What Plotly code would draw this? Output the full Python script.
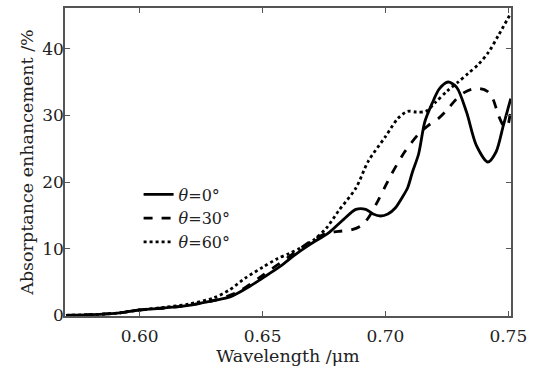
import plotly.graph_objects as go

# Wavelength (um) and absorptance enhancement (%)
x0 = [0.570, 0.580, 0.590, 0.600, 0.610, 0.620, 0.630, 0.637, 0.645, 0.650, 0.657, 0.664, 0.670, 0.677, 0.683, 0.688, 0.692, 0.695, 0.698, 0.701, 0.704, 0.707, 0.709, 0.711, 0.7135, 0.716, 0.719, 0.722, 0.7255, 0.729, 0.733, 0.737, 0.7417, 0.745, 0.748, 0.751]
y0 = [0.0, 0.1, 0.3, 0.8, 1.1, 1.5, 2.2, 2.8, 4.4, 5.6, 7.3, 9.3, 10.8, 12.4, 14.4, 15.9, 15.9, 15.2, 14.9, 15.2, 16.1, 17.8, 19.1, 21.5, 24.2, 29.0, 31.8, 34.0, 35.0, 34.2, 30.5, 25.5, 23.0, 24.5, 28.5, 32.5]

x30 = [0.570, 0.580, 0.590, 0.600, 0.610, 0.620, 0.630, 0.640, 0.650, 0.660, 0.670, 0.676, 0.681, 0.686, 0.690, 0.693, 0.697, 0.7025, 0.708, 0.7135, 0.7175, 0.7215, 0.7255, 0.7285, 0.732, 0.735, 0.7385, 0.7415, 0.7437, 0.746, 0.748, 0.7495, 0.751]
y30 = [0.0, 0.1, 0.3, 0.8, 1.1, 1.5, 2.2, 3.5, 6.0, 8.6, 11.2, 12.3, 12.6, 12.8, 13.4, 14.6, 17.2, 21.2, 24.6, 27.2, 28.5, 29.5, 31.0, 32.3, 33.4, 33.9, 34.0, 33.6, 32.5, 30.0, 28.5, 28.3, 31.0]

x60 = [0.570, 0.580, 0.590, 0.600, 0.610, 0.620, 0.630, 0.6365, 0.643, 0.650, 0.656, 0.661, 0.6655, 0.6705, 0.676, 0.681, 0.688, 0.693, 0.700, 0.705, 0.709, 0.7125, 0.7165, 0.7205, 0.725, 0.7296, 0.7337, 0.7377, 0.742, 0.746, 0.751]
y60 = [0.0, 0.1, 0.3, 0.8, 1.2, 1.7, 2.6, 3.8, 5.6, 7.2, 8.5, 9.3, 10.1, 11.2, 13.1, 15.7, 19.1, 23.1, 26.8, 29.5, 30.6, 30.5, 30.6, 32.0, 33.6, 35.0, 36.3, 37.6, 39.5, 42.0, 45.3]

series = [
    ("<i>θ</i>=0°", x0, y0, "solid"),
    ("<i>θ</i>=30°", x30, y30, "dash"),
    ("<i>θ</i>=60°", x60, y60, "dot"),
]

fig = go.Figure()
for name, xs, ys, dash in series:
    fig.add_trace(go.Scatter(
        x=xs, y=ys, mode="lines", name=name,
        line=dict(color="black", width=2.8, dash=dash, shape="spline", smoothing=0.8),
    ))

font = "DejaVu Serif, serif"
axis_common = dict(
    showline=True, linecolor="#555", linewidth=1.5, mirror="ticks",
    ticks="inside", ticklen=5, tickcolor="#555", tickwidth=1,
    showgrid=False, zeroline=False,
    tickfont=dict(family=font, size=17, color="#222"),
)
fig.update_xaxes(range=[0.5696, 0.7511], tickvals=[0.60, 0.65, 0.70, 0.75],
                 ticktext=["0.60", "0.65", "0.70", "0.75"], ticklabelstandoff=4,
                 title=dict(text="Wavelength /μm", font=dict(family=font, size=17.5, color="#222"), standoff=3),
                 **axis_common)
fig.update_yaxes(range=[-0.1, 46.1], tickvals=[0, 10, 20, 30, 40], ticklabelstandoff=-4,
                 title=dict(text="Absorptance enhancement /%", font=dict(family=font, size=17.5, color="#222"), standoff=4),
                 **axis_common)

fig.update_layout(
    width=533, height=369,
    margin=dict(l=65, r=20, t=6, b=53),
    plot_bgcolor="white", paper_bgcolor="white",
    legend=dict(x=0.165, y=0.45, xanchor="left", yanchor="top",
                bgcolor="rgba(0,0,0,0)", font=dict(family=font, size=16, color="#222"),
                tracegroupgap=0, itemwidth=30),
    showlegend=True,
)

fig.write_html("out.html")
